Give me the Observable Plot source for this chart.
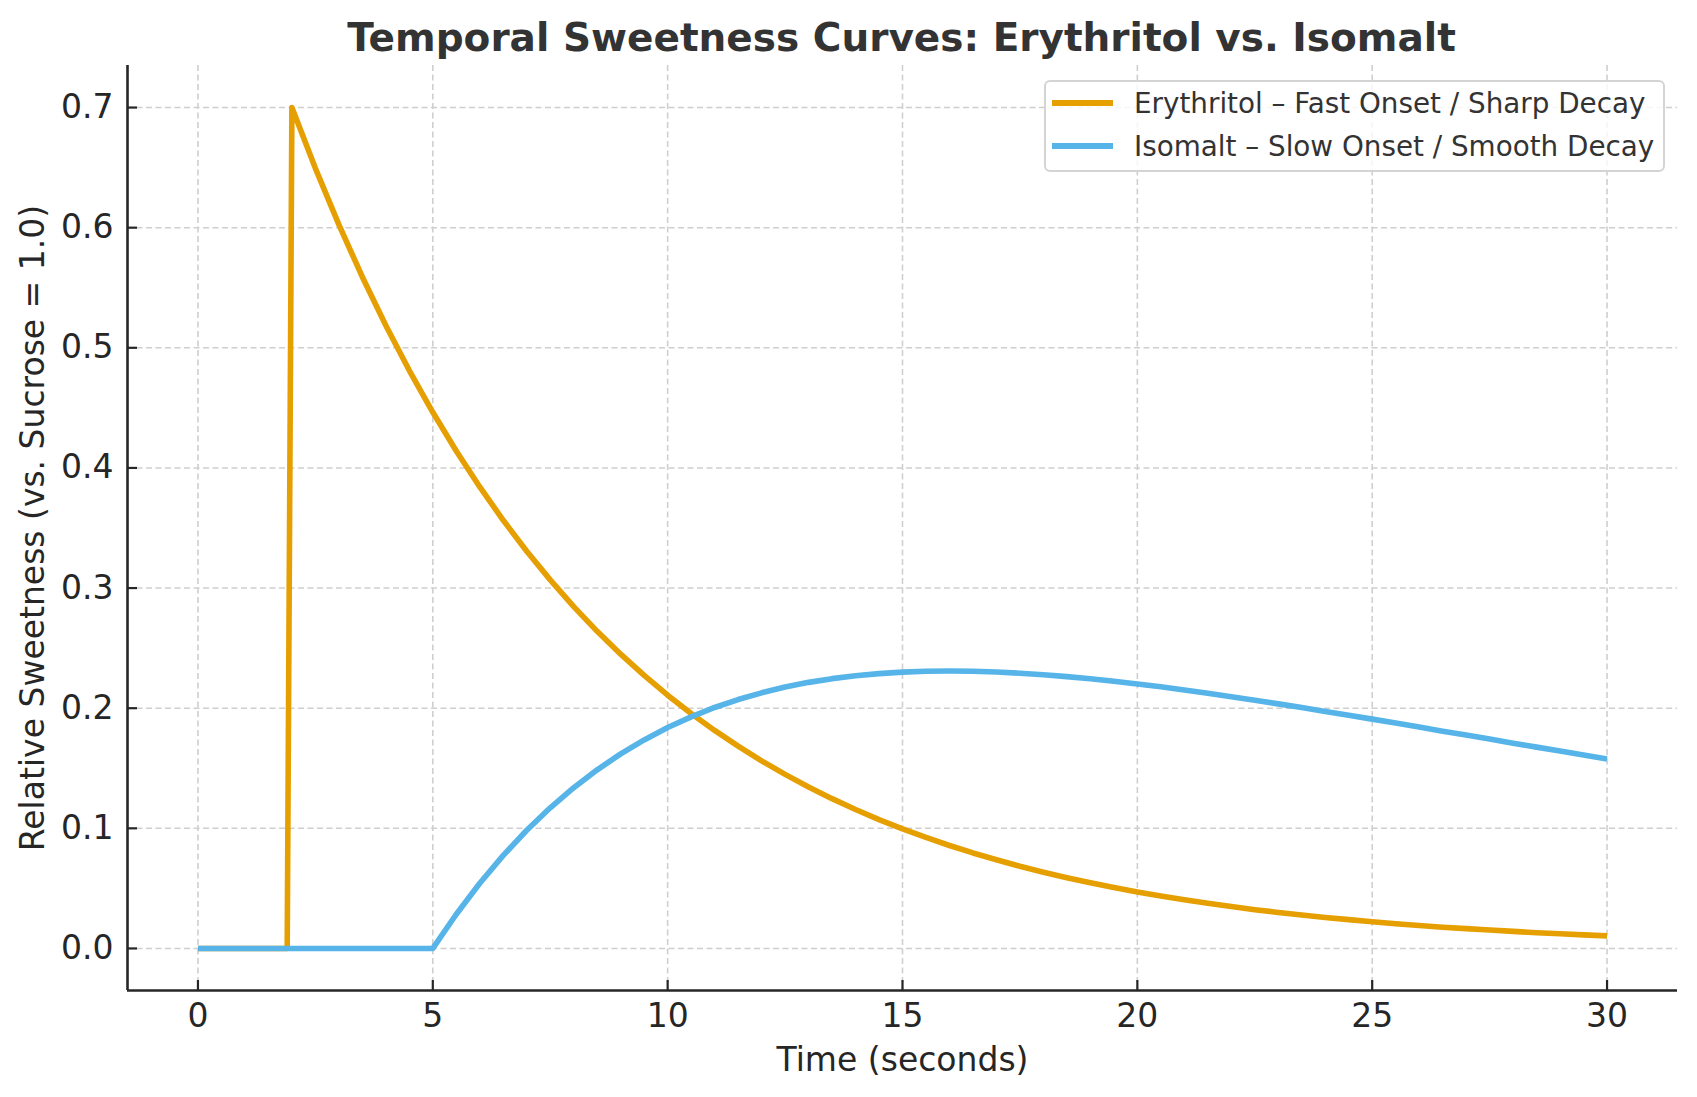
<!DOCTYPE html>
<html>
<head>
<meta charset="utf-8">
<script src="https://cdn.jsdelivr.net/npm/d3@7"></script>
<script src="https://cdn.jsdelivr.net/npm/@observablehq/plot@0.6"></script>
<style>
  html, body { margin: 0; padding: 0; background: #fff; overflow: hidden; }
  body { font-family: "DejaVu Sans", sans-serif; }
  #wrap { position: relative; width: 1697px; height: 1097px; overflow: hidden; background: #fff; }
  #title { position: absolute; left: 127px; width: 1549px; top: 18px; line-height: 40px; text-align: center;
           font-weight: bold; font-size: 39px; color: #333; white-space: nowrap; }
  #chart { position: absolute; left: 0; top: 60px; }
  #legend { position: absolute; left: 1044px; top: 80px; width: 617px; height: 88px;
            border: 2px solid #d4d4d4; border-radius: 6px; background: rgba(255,255,255,0.8); }
  .row { position: absolute; left: 0; height: 40px; display: flex; align-items: center; }
  .sw { width: 61px; height: 5.5px; margin-left: 6px; margin-right: 21px; }
  .lab { font-size: 27.8px; color: #333; white-space: nowrap; }
</style>
</head>
<body>
<div id="wrap">
  <div id="title"></div>
  <div id="chart"></div>
  <div id="legend"></div>
</div>
<script>
// ---- data ----
const titleText = "Temporal Sweetness Curves: Erythritol vs. Isomalt";
const xLabel = "Time (seconds)";
const yLabel = "Relative Sweetness (vs. Sucrose = 1.0)";
const seriesNames = ["Erythritol – Fast Onset / Sharp Decay", "Isomalt – Slow Onset / Smooth Decay"];
const seriesColors = ["#E69F00", "#56B4E9"];
const xTicks = [0, 5, 10, 15, 20, 25, 30];
const yTicks = [0.0, 0.1, 0.2, 0.3, 0.4, 0.5, 0.6, 0.7];

const time = [0, 0.5, 1, 1.5, 1.9,
  2, 2.5, 3, 3.5, 4, 4.5, 5, 5.5, 6, 6.5, 7, 7.5, 8, 8.5, 9, 9.5, 10,
  10.5, 11, 11.5, 12, 12.5, 13, 13.5, 14, 14.5, 15, 15.5, 16, 16.5, 17, 17.5, 18,
  18.5, 19, 19.5, 20, 20.5, 21, 21.5, 22, 22.5, 23, 23.5, 24, 24.5, 25, 25.5, 26,
  26.5, 27, 27.5, 28, 28.5, 29, 29.5, 30];

const erythritol = [0, 0, 0, 0, 0,
  0.7000, 0.6494, 0.6025, 0.5590, 0.5186, 0.4811, 0.4463, 0.4141, 0.3842, 0.3564, 0.3307,
  0.3068, 0.2846, 0.2640, 0.2450, 0.2273, 0.2108, 0.1956, 0.1815, 0.1684, 0.1562, 0.1449,
  0.1344, 0.1247, 0.1157, 0.1073, 0.0996, 0.0924, 0.0857, 0.0795, 0.0738, 0.0684, 0.0635,
  0.0589, 0.0547, 0.0507, 0.0470, 0.0436, 0.0405, 0.0376, 0.0349, 0.0323, 0.0300, 0.0278,
  0.0258, 0.0240, 0.0222, 0.0206, 0.0191, 0.0177, 0.0165, 0.0153, 0.0142, 0.0131, 0.0122,
  0.0113, 0.0105];

const isomalt = [0, 0, 0, 0, 0, 0, 0, 0, 0, 0, 0, 0,
  0.0285, 0.0543, 0.0775, 0.0984, 0.1171, 0.1338, 0.1487, 0.1620, 0.1736, 0.1839,
  0.1928, 0.2006, 0.2072, 0.2128, 0.2176, 0.2215, 0.2246, 0.2270, 0.2288, 0.2300,
  0.2307, 0.2309, 0.2307, 0.2301, 0.2291, 0.2279, 0.2263, 0.2245, 0.2224, 0.2202,
  0.2178, 0.2152, 0.2124, 0.2096, 0.2067, 0.2036, 0.2005, 0.1973, 0.1941, 0.1909,
  0.1876, 0.1843, 0.1809, 0.1776, 0.1743, 0.1709, 0.1676, 0.1643, 0.1610, 0.1578];

// ---- build table ----
const rows = [];
time.forEach((t, i) => {
  rows.push({t, v: erythritol[i], series: seriesNames[0]});
  rows.push({t, v: isomalt[i], series: seriesNames[1]});
});

const xDomain = [-1.5, 31.5];
const yDomain = [-0.035, 0.735];
const ink = "#262626";
const gridStyle = {stroke: "#cfcfcf", strokeWidth: 1.6, strokeDasharray: "6,3.5"};

document.getElementById("title").textContent = titleText;

const chart = Plot.plot({
  width: 1697,
  height: 1037,
  marginTop: 5,
  marginBottom: 107,
  marginLeft: 127,
  marginRight: 20,
  style: {fontFamily: "DejaVu Sans, sans-serif", fontSize: "33px", color: ink, background: "transparent", overflow: "visible"},
  x: {domain: xDomain},
  y: {domain: yDomain},
  color: {domain: seriesNames, range: seriesColors},
  marks: [
    Plot.ruleX(xTicks, {x: d => d, ...gridStyle}),
    Plot.ruleY(yTicks, {y: d => d, ...gridStyle}),
    Plot.line(rows, {x: "t", y: "v", z: "series", stroke: "series", strokeWidth: 5.6,
                     strokeLinejoin: "round", strokeLinecap: "butt"}),
    Plot.ruleX([xDomain[0]], {x: d => d, stroke: ink, strokeWidth: 2.6}),
    Plot.ruleY([yDomain[0]], {y: d => d, stroke: ink, strokeWidth: 2.6}),
    Plot.ruleX(xTicks, {x: d => d, y1: yDomain[0], y2: yDomain[0], insetTop: -10, stroke: ink, strokeWidth: 2.2}),
    Plot.ruleY(yTicks, {y: d => d, x1: xDomain[0], x2: xDomain[0], insetRight: -10, stroke: ink, strokeWidth: 2.2}),
    Plot.axisX({ticks: xTicks, tickSize: 0, tickPadding: 13, label: null, fontSize: 33, tickFormat: d => String(d)}),
    Plot.axisY({ticks: yTicks, tickSize: 0, tickPadding: 14, label: null, fontSize: 33, tickFormat: d3.format(".1f")}),
    Plot.text([xLabel], {text: d => d, frameAnchor: "bottom", dy: 70, lineAnchor: "middle", textAnchor: "middle", fontSize: 33, fill: ink}),
    Plot.text([yLabel], {text: d => d, frameAnchor: "left", dx: -94, rotate: -90, textAnchor: "middle", lineAnchor: "middle", fontSize: 33, fill: ink})
  ]
});
document.getElementById("chart").appendChild(chart);

// ---- legend ----
const legend = document.getElementById("legend");
seriesNames.forEach((name, i) => {
  const row = document.createElement("div");
  row.className = "row";
  row.style.top = (1 + i * 43) + "px";
  const sw = document.createElement("div");
  sw.className = "sw";
  sw.style.background = seriesColors[i];
  const lab = document.createElement("span");
  lab.className = "lab";
  lab.textContent = name;
  row.appendChild(sw);
  row.appendChild(lab);
  legend.appendChild(row);
});
</script>
</body>
</html>
